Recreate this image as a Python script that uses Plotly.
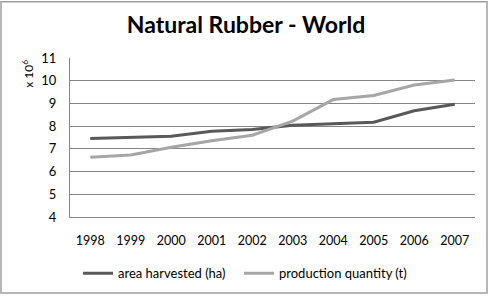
import plotly.graph_objects as go

years = ["1998", "1999", "2000", "2001", "2002", "2003", "2004", "2005", "2006", "2007"]
area_harvested = [7.46, 7.51, 7.55, 7.78, 7.85, 8.04, 8.12, 8.17, 8.68, 8.96]
production_quantity = [6.63, 6.73, 7.07, 7.36, 7.60, 8.22, 9.17, 9.35, 9.81, 10.03]
y_ticks = [4, 5, 6, 7, 8, 9, 10, 11]

W, H = 492, 300
L, R, T, B = 70, 17, 58, 81
pw, ph = W - L - R, H - T - B

def px_x(p):
    return (p - L) / pw

def px_y(p):
    return (H - B - p) / ph

fig = go.Figure()
fig.add_trace(go.Scatter(x=years, y=area_harvested, mode="lines",
                         name="area harvested (ha)", legend="legend",
                         line=dict(color="#595959", width=3)))
fig.add_trace(go.Scatter(x=years, y=production_quantity, mode="lines",
                         name="production quantity (t)", legend="legend2",
                         line=dict(color="#a6a6a6", width=3)))

font_family = "Lato, 'Open Sans', sans-serif"

fig.update_layout(
    width=W, height=H,
    margin=dict(l=L, r=R, t=T, b=B, pad=0),
    paper_bgcolor="white", plot_bgcolor="white",
    font=dict(family=font_family, size=12, color="#000000"),
    title=dict(text="<b>Natural Rubber - World</b>", x=0.5, xanchor="center",
               y=1 - 25 / H, yanchor="middle", xref="container",
               font=dict(family=font_family, size=23, color="#000000")),
    xaxis=dict(type="category", range=[-0.5, len(years) - 0.5], showgrid=False,
               showline=True, linecolor="#868686", linewidth=1,
               ticks="outside", ticklen=12, tickcolor="rgba(0,0,0,0)", tickfont=dict(size=12.5)),
    yaxis=dict(range=[4, 11], tickvals=y_ticks, showgrid=True, gridcolor="#868686",
               gridwidth=1, showline=True, linecolor="#868686", linewidth=1,
               ticks="outside", ticklen=10, tickcolor="rgba(0,0,0,0)",
               tickfont=dict(size=13), zeroline=False),
    showlegend=True,
    legend=dict(orientation="h", x=px_x(78), xanchor="left", y=px_y(276), yanchor="middle",
                font=dict(size=13), itemwidth=30, bgcolor="rgba(0,0,0,0)"),
    legend2=dict(orientation="h", x=px_x(239), xanchor="left", y=px_y(276), yanchor="middle",
                 font=dict(size=13), itemwidth=30, bgcolor="rgba(0,0,0,0)"),
)

fig.add_annotation(text="x 10<sup>6</sup>", textangle=-90, xref="paper", yref="paper",
                   x=px_x(28), y=px_y(74), showarrow=False, xanchor="center", yanchor="middle",
                   font=dict(size=12))

fig.add_shape(type="rect", xref="paper", yref="paper",
              x0=px_x(1), x1=px_x(487), y0=px_y(296), y1=px_y(1),
              line=dict(color="#a0a0a0", width=1.5), fillcolor="rgba(0,0,0,0)", layer="below")

fig.write_html("out.html")
